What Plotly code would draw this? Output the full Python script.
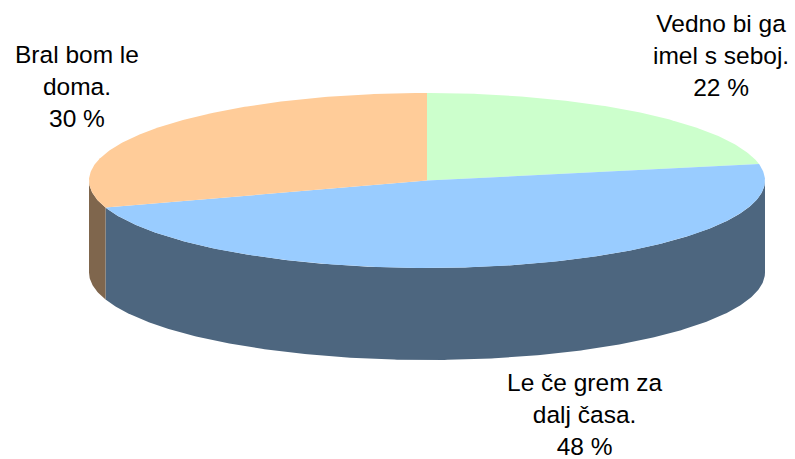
import numpy as np
import plotly.graph_objects as go

labels = ["Vedno bi ga<br>imel s seboj.<br>22 %", "Le če grem za<br>dalj časa.<br>48 %", "Bral bom le<br>doma.<br>30 %"]
names = ["Vedno bi ga imel s seboj.", "Le če grem za dalj časa.", "Bral bom le doma."]
values = [22, 48, 30]
top_colors = ["#CCFFCC", "#99CCFF", "#FFCC99"]
side_colors = ["#66806A", "#4D667F", "#7F664D"]
label_x = [721, 585, 77]
label_y = [55, 414, 86]

# projected pie geometry (pixels of the drawing area)
CX, CY, RX, RY, DEPTH = 427, 180.5, 338, 87.5, 92


def arc(a0, a1, dy=0.0):
    t = np.radians(np.linspace(a0, a1, max(int(abs(a1 - a0) * 2), 2)))
    return CX + RX * np.sin(t), CY - RY * np.cos(t) + dy


fig = go.Figure()
angles = np.concatenate([[0], np.cumsum(values) / sum(values) * 360])

# side walls: only the front half (90..270 degrees) of the rim is visible
for i in range(len(values)):
    a0, a1 = max(angles[i], 90), min(angles[i + 1], 270)
    if a0 >= a1:
        continue
    x0, y0 = arc(a0, a1)
    x1, y1 = arc(a0, a1, DEPTH)
    fig.add_trace(go.Scatter(
        x=np.concatenate([x0, x1[::-1]]), y=np.concatenate([y0, y1[::-1]]),
        mode="lines", fill="toself", fillcolor=side_colors[i],
        line=dict(width=0), hoverinfo="skip", showlegend=False))

# top faces
for i in range(len(values)):
    xa, ya = arc(angles[i], angles[i + 1])
    fig.add_trace(go.Scatter(
        x=np.concatenate([[CX], xa, [CX]]), y=np.concatenate([[CY], ya, [CY]]),
        mode="lines", fill="toself", fillcolor=top_colors[i],
        line=dict(width=0), name=names[i], showlegend=False))

for t, x, y in zip(labels, label_x, label_y):
    fig.add_annotation(x=x, y=y, text=t, showarrow=False, xanchor="center", yanchor="middle",
                       align="center",
                       font=dict(family="Liberation Sans, Arial", size=24.5, color="#000000"))

fig.update_layout(
    width=795, height=459, margin=dict(l=0, r=0, t=0, b=0),
    paper_bgcolor="#FFFFFF", plot_bgcolor="#FFFFFF", showlegend=False,
    xaxis=dict(range=[0, 795], visible=False, fixedrange=True),
    yaxis=dict(range=[459, 0], visible=False, fixedrange=True),
)
fig.write_html("out.html", config={"displayModeBar": False},
               post_script="document.body.style.margin='0';document.body.style.overflow='hidden';")
